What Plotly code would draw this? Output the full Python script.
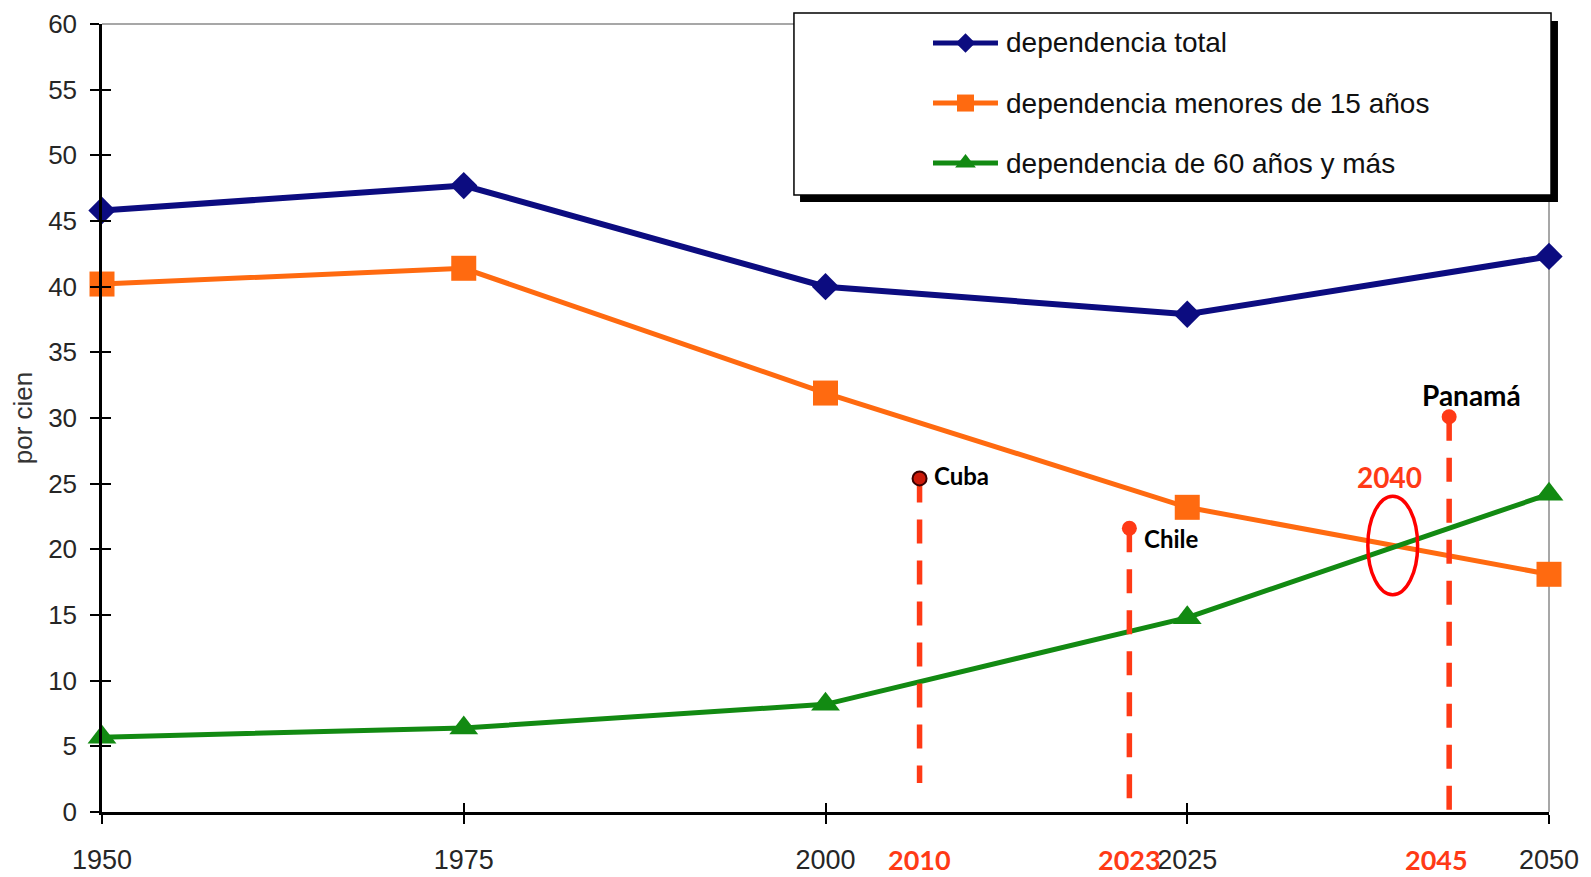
import plotly.graph_objects as go

# ---------------- data ----------------
years = [1950, 1975, 2000, 2025, 2050]
dep_total = [45.8, 47.7, 40.0, 37.9, 42.3]
dep_menores15 = [40.2, 41.4, 31.9, 23.2, 18.1]
dep_60mas = [5.7, 6.4, 8.2, 14.8, 24.2]

series_names = ["dependencia total", "dependencia menores de 15 años", "dependencia de 60 años y más"]

x_ticks = [1950, 1975, 2000, 2025, 2050]
y_ticks = list(range(0, 61, 5))

countries = ["Cuba", "Chile", "Panamá"]
country_year_labels = ["2010", "2023", "2045"]
country_x = [2006.5, 2021.0, 2043.1]       # position of the dashed markers on the year axis
country_top = [25.4, 21.6, 30.1]           # top of the dashed marker (dot)
country_bottom = [2.2, 0.9, -0.5]          # bottom end of dashed line

cross_label = "2040"
cross_year = 2039.2
cross_value = 20.3

# ---------------- styling ----------------
C_BLUE = "#0c0c80"
C_ORANGE = "#ff6a10"
C_GREEN = "#128a12"
C_RED = "#ff3a16"
AX_FONT = "Liberation Sans, Arial, sans-serif"
LEG_FONT = "Liberation Sans Narrow, Arial Narrow, Liberation Sans, sans-serif"
LBL_FONT = "Lato, Carlito, Calibri, sans-serif"

fig = go.Figure()

styles = [
    (dep_total, C_BLUE, "diamond", 21, 6),
    (dep_menores15, C_ORANGE, "square", 25, 5),
    (dep_60mas, C_GREEN, "triangle-up", 25, 5),
]
for name, (vals, col, sym, msize, lw) in zip(series_names, styles):
    fig.add_trace(go.Scatter(
        x=years, y=vals, name=name, mode="lines+markers",
        line=dict(color=col, width=lw),
        marker=dict(symbol=sym, size=msize, color=col),
        cliponaxis=False, showlegend=False,
    ))

# dashed country markers
dot_colors = ["#cc1a0a", C_RED, C_RED]
dot_lines = ["#3a0000", C_RED, C_RED]
for i, c in enumerate(countries):
    fig.add_trace(go.Scatter(
        x=[country_x[i], country_x[i]], y=[country_top[i], country_bottom[i]],
        mode="lines", line=dict(color=C_RED, width=5.5, dash="24px,17px"),
        showlegend=False, hoverinfo="skip",
    ))
    fig.add_trace(go.Scatter(
        x=[country_x[i]], y=[country_top[i]], mode="markers",
        marker=dict(size=14 if i == 0 else 15, color=dot_colors[i],
                    line=dict(color=dot_lines[i], width=2 if i == 0 else 0)),
        showlegend=False, hoverinfo="skip", cliponaxis=False,
    ))

# dummy trace on overlay axes (for crossing ticks)
fig.add_trace(go.Scatter(x=[None], y=[None], xaxis="x2", yaxis="y2", showlegend=False))

# legend samples drawn on a unit overlay axis
leg_x0, leg_x1 = 0.5743, 0.6192
leg_rows = [0.9759, 0.8997, 0.8236]
leg_msizes = [15, 17, 18]
for (vals, col, sym, msize, lw), ry, ms in zip(styles, leg_rows, leg_msizes):
    fig.add_trace(go.Scatter(
        x=[leg_x0, leg_x1], y=[ry, ry], xaxis="x3", yaxis="y3",
        mode="lines", line=dict(color=col, width=5), showlegend=False, hoverinfo="skip",
    ))
    fig.add_trace(go.Scatter(
        x=[(leg_x0 + leg_x1) / 2], y=[ry], xaxis="x3", yaxis="y3",
        mode="markers", marker=dict(symbol=sym, size=ms, color=col),
        showlegend=False, hoverinfo="skip", cliponaxis=False,
    ))

shapes = [
    # gray top / right frame
    dict(type="line", xref="paper", yref="paper", x0=0, x1=1, y0=1, y1=1,
         line=dict(color="#8a8a8a", width=1.5), layer="below"),
    dict(type="line", xref="paper", yref="paper", x0=1, x1=1, y0=0, y1=1,
         line=dict(color="#8a8a8a", width=1.5), layer="below"),
    # legend shadow + box
    dict(type="rect", xref="paper", yref="paper", x0=0.4824, x1=1.0062, y0=0.7741, y1=1.0038,
         fillcolor="black", line=dict(width=0), layer="below"),
    dict(type="rect", xref="paper", yref="paper", x0=0.4782, x1=1.0014, y0=0.783, y1=1.014,
         fillcolor="white", line=dict(color="black", width=1.5), layer="below"),
    # ellipse around crossing
    dict(type="circle", xref="x", yref="y", x0=cross_year - 1.72, x1=cross_year + 1.72,
         y0=cross_value - 3.75, y1=cross_value + 3.75, line=dict(color="#ff0000", width=3.5)),
]

annotations = []
for name, ry in zip(series_names, leg_rows):
    annotations.append(dict(xref="paper", yref="paper", x=0.6234, y=ry, text=name, showarrow=False,
                            xanchor="left", yanchor="middle",
                            font=dict(family=LEG_FONT, size=28, color="#111111")))
lbl_offsets = [(0.85, 0.2), (0.85, -0.8), (-2.0, 1.65)]
lbl_sizes = [24, 24, 28]
for i, c in enumerate(countries):
    dx, dy = lbl_offsets[i]
    annotations.append(dict(xref="x", yref="y", x=country_x[i] + dx, y=country_top[i] + dy, text=f"<b>{c}</b>",
                            showarrow=False, xanchor="left", yanchor="middle",
                            font=dict(family=LBL_FONT, size=lbl_sizes[i], color="#000")))
    annotations.append(dict(xref="x", yref="paper", x=country_x[i] - 0.1 * (i == 2) * 9, y=-0.0605,
                            text=f"<b>{country_year_labels[i]}</b>", showarrow=False,
                            xanchor="center", yanchor="middle",
                            font=dict(family=LBL_FONT, size=27, color=C_RED)))
annotations.append(dict(xref="x", yref="y", x=cross_year - 0.25, y=cross_value + 5.2, text=f"<b>{cross_label}</b>",
                        showarrow=False, xanchor="center", yanchor="middle",
                        font=dict(family=LBL_FONT, size=28, color=C_RED)))

fig.update_layout(
    width=1591, height=877, autosize=False,
    margin=dict(l=102, r=42, t=24, b=65, pad=0, autoexpand=False),
    paper_bgcolor="white", plot_bgcolor="white",
    showlegend=False,
    shapes=shapes, annotations=annotations,
    xaxis=dict(range=[1950, 2050], tickvals=x_ticks, ticks="outside", ticklen=9, tickwidth=1.5,
               tickcolor="black", showline=True, linecolor="black", linewidth=3, showgrid=False,
               zeroline=False, tickfont=dict(family=AX_FONT, size=27, color="#262626"),
               ticklabelstandoff=13, layer="above traces", automargin=False),
    yaxis=dict(range=[0, 60], tickvals=y_ticks, ticks="outside", ticklen=9, tickwidth=1.5,
               tickcolor="black", showline=True, linecolor="black", linewidth=2.5, showgrid=False,
               zeroline=False, tickfont=dict(family=AX_FONT, size=26, color="#262626"),
               ticklabelstandoff=8, automargin=False,
               title=dict(text="por cien", font=dict(family=AX_FONT, size=26, color="#333"), standoff=9)),
    xaxis2=dict(range=[1950, 2050], overlaying="x", anchor="y2", tickvals=x_ticks, ticks="inside",
                ticklen=9, tickwidth=1.5, tickcolor="black", showticklabels=False, showline=False,
                showgrid=False, zeroline=False, automargin=False),
    yaxis2=dict(range=[0, 60], overlaying="y", anchor="x2", tickvals=y_ticks, ticks="inside",
                ticklen=9, tickwidth=1.5, tickcolor="black", showticklabels=False, showline=False,
                showgrid=False, zeroline=False, automargin=False),
    xaxis3=dict(range=[0, 1], overlaying="x", anchor="y3", visible=False, automargin=False),
    yaxis3=dict(range=[0, 1], overlaying="y", anchor="x3", visible=False, automargin=False),
)

fig.write_html("out.html", config={"displayModeBar": False},
               post_script="document.body.style.margin='0px';document.body.style.overflow='hidden';")
